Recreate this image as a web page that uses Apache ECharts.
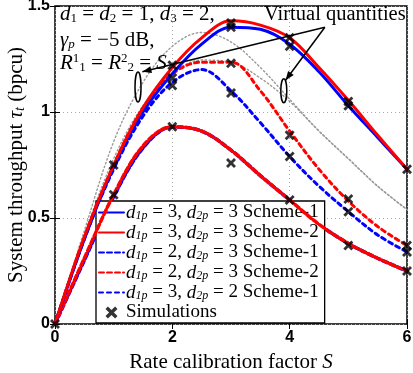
<!DOCTYPE html>
<html lang="en">
<head>
    <meta charset="UTF-8">
    <title>System throughput vs rate calibration factor</title>
    <script src="https://cdn.jsdelivr.net/npm/echarts@6/dist/echarts.min.js"></script>
    <style>
        html, body { margin: 0; padding: 0; background: #fff; }
        #main { width: 413px; height: 373px; }
    </style>
</head>
<body>
<div id="main"></div>
<script>
    // ---------- data ----------
    var sVals = [0, 0.5, 1, 1.5, 2, 2.5, 3, 3.5, 4, 4.5, 5, 5.5, 6];

    var blueSolid   = [0, 0.40, 0.74, 1.00, 1.18, 1.32, 1.40, 1.39, 1.32, 1.19, 1.03, 0.88, 0.73];
    var redSolid    = [0, 0.41, 0.75, 1.02, 1.21, 1.35, 1.43, 1.41, 1.35, 1.21, 1.055, 0.89, 0.73];
    var blueDashDot = [0, 0.30, 0.60, 0.83, 0.93, 0.91, 0.82, 0.70, 0.585, 0.47, 0.38, 0.31, 0.25];
    var redDashDot  = [0, 0.31, 0.61, 0.84, 0.93, 0.91, 0.82, 0.70, 0.585, 0.47, 0.38, 0.31, 0.25];
    var blueDashed  = [0, 0.40, 0.73, 0.98, 1.14, 1.20, 1.10, 0.95, 0.79, 0.65, 0.53, 0.42, 0.34];
    var redDashed   = [0, 0.41, 0.75, 1.02, 1.18, 1.235, 1.235, 1.10, 0.91, 0.73, 0.58, 0.46, 0.37];
    var virtualA    = [0, 0.44, 0.86, 1.14, 1.31, 1.375, 1.33, 1.21, 1.06, 0.91, 0.78, 0.65, 0.54];
    var virtualB    = [0, 0.42, 0.78, 1.03, 1.18, 1.245, 1.235, 1.16, 1.05, 0.91, 0.78, 0.65, 0.54];

    // simulation points (x marks)
    var simS = [0, 1, 1, 2, 2, 2, 2, 3, 3, 3, 3, 3, 4, 4, 4, 4, 4, 5, 5, 5, 5, 5, 6, 6, 6, 6];
    var simV = [0, 0.75, 0.61, 1.22, 1.16, 1.125, 0.93, 1.42, 1.40, 1.23, 1.09, 0.76,
                1.35, 1.31, 0.89, 0.79, 0.585, 1.05, 1.03, 0.59, 0.53, 0.37,
                0.73, 0.37, 0.34, 0.25];

    var legendNames = [
        '{i|d}{s|1p} = 3, {i|d}{s|2p} = 3 Scheme-1',
        '{i|d}{s|1p} = 3, {i|d}{s|2p} = 3 Scheme-2',
        '{i|d}{s|1p} = 2, {i|d}{s|2p} = 3 Scheme-1',
        '{i|d}{s|1p} = 2, {i|d}{s|2p} = 3 Scheme-2',
        '{i|d}{s|1p} = 3, {i|d}{s|2p} = 2 Scheme-1',
        'Simulations'
    ];

    function pairs(ys) {
        return sVals.map(function (s, i) { return [s, ys[i]]; });
    }

    var serif = 'Liberation Serif';
    var richMath = {
        i: { fontFamily: serif, fontStyle: 'italic', fontSize: 19, color: '#000' },
        s: { fontFamily: serif, fontStyle: 'italic', fontSize: 12, color: '#000', padding: [7, 0, 0, 0] }
    };
    var crossPath = 'path://M0,2L2,0L5,3L8,0L10,2L7,5L10,8L8,10L5,7L2,10L0,8L3,5Z';

    var chart = echarts.init(document.getElementById('main'));

    function lineSeries(name, ys, color, type, width, z) {
        return {
            name: name,
            type: 'line',
            data: pairs(ys),
            smooth: 0.35,
            showSymbol: false,
            symbol: 'none',
            z: z,
            lineStyle: { color: color, width: width, type: type, cap: 'round' },
            itemStyle: { color: color }
        };
    }

    var tickLabel = { fontFamily: 'Liberation Sans', fontWeight: 'bold', fontSize: 16, color: '#000' };

    var legendData = legendNames.map(function (n, i) {
        return i < 5 ? { name: n, itemStyle: { opacity: 0 } } : { name: n };
    });

    var option = {
        animation: false,
        backgroundColor: '#fff',
        grid: {
            left: 55, right: 6, top: 6, bottom: 49,
            outerBoundsMode: 'none', containLabel: false,
            show: true, borderColor: '#000', borderWidth: 1.5
        },
        xAxis: [
            {
                type: 'value', min: 0, max: 6, interval: 2,
                name: 'Rate calibration factor {i|S}',
                nameLocation: 'middle', nameGap: 28, nameMoveOverlap: false,
                nameTextStyle: {
                    fontFamily: serif, fontSize: 21, color: '#000',
                    rich: { i: { fontFamily: serif, fontStyle: 'italic', fontSize: 21, color: '#000' } }
                },
                axisLine: { show: false },
                axisTick: { inside: true, length: 5, lineStyle: { color: '#000' } },
                axisLabel: Object.assign({ margin: 6 }, tickLabel),
                splitLine: { show: true, lineStyle: { color: '#aaa', type: [1, 3], width: 1 } }
            },
            {
                type: 'value', min: 0, max: 6, interval: 2, position: 'top',
                axisLine: { show: false },
                axisTick: { inside: true, length: 5, lineStyle: { color: '#000' } },
                axisLabel: { show: false }, splitLine: { show: false }
            }
        ],
        yAxis: [
            {
                type: 'value', min: 0, max: 1.5, interval: 0.5,
                name: 'System throughput {i|τ}{s|t} (bpcu)',
                nameLocation: 'middle', nameGap: 28, nameMoveOverlap: false,
                nameTextStyle: {
                    fontFamily: serif, fontSize: 21, color: '#000',
                    rich: {
                        i: { fontFamily: serif, fontStyle: 'italic', fontSize: 21, color: '#000' },
                        s: { fontFamily: serif, fontStyle: 'italic', fontSize: 14, color: '#000', padding: [8, 0, 0, 0] }
                    }
                },
                axisLine: { show: false },
                axisTick: { inside: true, length: 5, lineStyle: { color: '#000' } },
                axisLabel: Object.assign({ margin: 5, formatter: function (v) { return String(v); } }, tickLabel),
                splitLine: { show: true, lineStyle: { color: '#aaa', type: [1, 3], width: 1 } }
            },
            {
                type: 'value', min: 0, max: 1.5, interval: 0.5, position: 'right',
                axisLine: { show: false },
                axisTick: { inside: true, length: 5, lineStyle: { color: '#000' } },
                axisLabel: { show: false }, splitLine: { show: false }
            }
        ],
        legend: {
            data: legendData,
            orient: 'vertical',
            left: 96, top: 201,
            padding: [2, 6, 1, 2],
            itemGap: 1,
            itemWidth: 25, itemHeight: 12,
            backgroundColor: '#fff',
            borderColor: '#000', borderWidth: 1.3, borderRadius: 0,
            selectedMode: false,
            textStyle: { fontFamily: serif, fontSize: 19, color: '#000', padding: [0, 0, 0, -3], rich: richMath }
        },
        series: [
            // virtual quantities (gray dotted)
            lineSeries('vA', virtualA, '#999', [1.5, 2.5], 1.4, 2),
            lineSeries('vB', virtualB, '#999', [1.5, 2.5], 1.4, 2),
            lineSeries(legendNames[2], blueDashDot, '#0000ff', [5, 3], 3.5, 3),
            lineSeries(legendNames[3], redDashDot, '#ff0000', [5, 3], 3.5, 4),
            lineSeries(legendNames[4], blueDashed, '#0000ff', [4, 4], 3, 3),
            lineSeries('rd', redDashed, '#ff0000', [4, 4], 3, 3),
            lineSeries(legendNames[0], blueSolid, '#0000ff', 'solid', 3, 5),
            lineSeries(legendNames[1], redSolid, '#ff0000', 'solid', 3, 5),
            {
                name: legendNames[5],
                type: 'scatter',
                data: simS.map(function (s, i) { return [s, simV[i]]; }),
                symbol: crossPath,
                symbolSize: 10,
                z: 6,
                itemStyle: { color: '#000' }
            }
        ]
    };
    chart.setOption(option);

    // ---------- annotations ----------
    function px(p) { return chart.convertToPixel({ gridIndex: 0 }, p); }

    var src = px([4.6, 1.40]);
    var tip1 = px([1.49, 1.19]);
    var tip2 = px([3.93, 1.15]);
    var ell1 = px([1.415, 1.118]);
    var ell2 = px([3.9, 1.10]);

    function arrowHead(from, to) {
        var a = Math.atan2(to[1] - from[1], to[0] - from[0]);
        var L = 9, W = 3.5;
        var bx = to[0] - L * Math.cos(a), by = to[1] - L * Math.sin(a);
        return {
            type: 'polygon', z: 20,
            shape: { points: [to, [bx + W * Math.sin(a), by - W * Math.cos(a)], [bx - W * Math.sin(a), by + W * Math.cos(a)]] },
            style: { fill: '#000' }
        };
    }

    var annRich = {
        i: { fontFamily: serif, fontStyle: 'italic', fontSize: 21, color: '#000' },
        n: { fontFamily: serif, fontSize: 21, color: '#000' },
        s: { fontFamily: serif, fontSize: 13, color: '#000', padding: [9, 0, 0, 0] },
        si: { fontFamily: serif, fontStyle: 'italic', fontSize: 13, color: '#000', padding: [9, 0, 0, 0] },
        sup: { fontFamily: serif, fontSize: 13, color: '#000', padding: [0, 0, 9, 0] }
    };

    chart.setOption({
        graphic: [
            {
                type: 'text', left: 60, top: 4, z: 20,
                style: { text: '{i|d}{s|1}{n| = }{i|d}{s|2}{n| = 1, }{i|d}{s|3}{n| = 2,}', rich: annRich }
            },
            {
                type: 'text', left: 60, top: 30, z: 20,
                style: { text: '{i|γ}{si|p}{n| = −5 dB,}', rich: annRich }
            },
            {
                type: 'text', left: 60, top: 52, z: 20,
                style: { text: '{i|R}{sup|1}{s|1}{n| = }{i|R}{sup|2}{s|2}{n| = }{i|S}', rich: annRich }
            },
            {
                type: 'text', left: 264, top: 4, z: 20,
                style: { text: 'Virtual quantities', fontFamily: serif, fontSize: 20.5, fill: '#000' }
            },
            {
                type: 'line', z: 20,
                shape: { x1: src[0], y1: src[1], x2: tip1[0], y2: tip1[1] },
                style: { stroke: '#000', lineWidth: 1.5 }
            },
            arrowHead(src, tip1),
            {
                type: 'line', z: 20,
                shape: { x1: src[0], y1: src[1], x2: tip2[0], y2: tip2[1] },
                style: { stroke: '#000', lineWidth: 1.5 }
            },
            arrowHead(src, tip2),
            {
                type: 'ellipse', z: 20,
                shape: { cx: ell1[0], cy: ell1[1], rx: 3, ry: 15 },
                style: { fill: 'none', stroke: '#000', lineWidth: 1.5 }
            },
            {
                type: 'ellipse', z: 20,
                shape: { cx: ell2[0], cy: ell2[1], rx: 3, ry: 12 },
                style: { fill: 'none', stroke: '#000', lineWidth: 1.5 }
            }
        ]
    });
</script>
</body>
</html>
